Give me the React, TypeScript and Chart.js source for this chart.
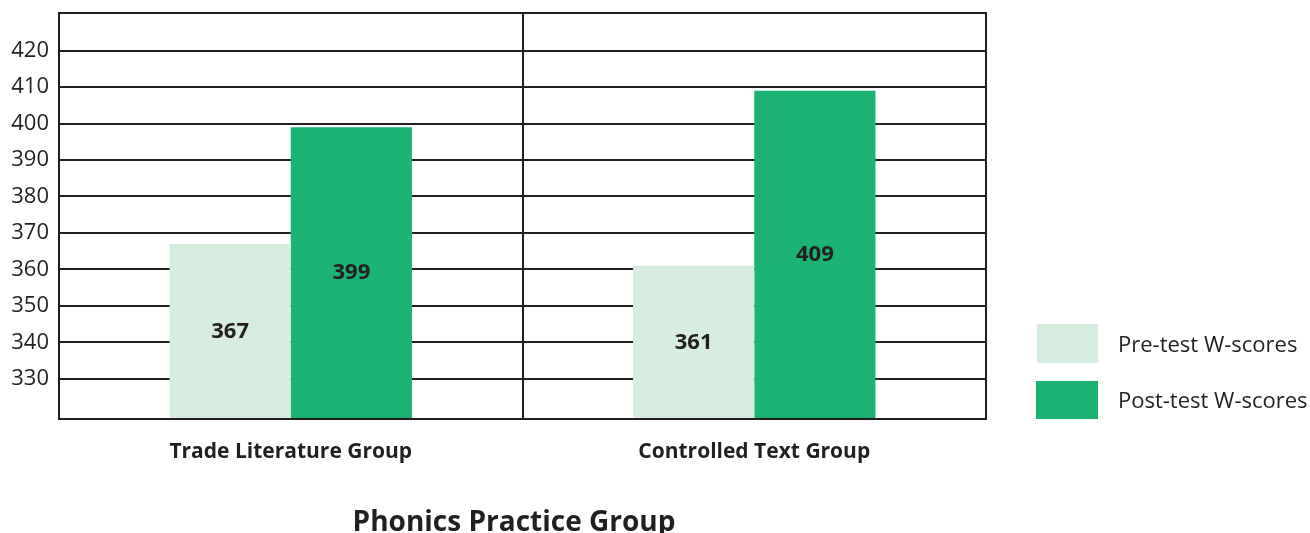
import React, { useEffect, useRef } from "react";
import { Chart, registerables } from "chart.js";

Chart.register(...registerables);

const categories = ["Trade Literature Group", "Controlled Text Group"];
const preTest = [367, 361];
const postTest = [399, 409];
const tickValues = [330, 340, 350, 360, 370, 380, 390, 400, 410, 420];
const seriesNames = ["Pre-test W-scores", "Post-test W-scores"];
const axisTitle = "Phonics Practice Group";

const PRE_COLOR = "#d5ecdf";
const POST_COLOR = "#1bb373";
const INK = "#231f20";
const FONT = "'Open Sans', 'Noto Sans', sans-serif";

export default function App() {
  const ref = useRef<HTMLCanvasElement | null>(null);

  useEffect(() => {
    document.body.style.margin = "0";
    const canvas = ref.current;
    if (!canvas) return;

    const framePlugin = {
      id: "frame",
      afterDatasetsDraw(chart: any) {
        const { ctx, chartArea } = chart;
        const yScale = chart.scales.y;
        ctx.save();
        ctx.fillStyle = INK;
        ctx.font = `bold 22px ${FONT}`;
        ctx.textAlign = "center";
        ctx.textBaseline = "middle";
        chart.data.datasets.forEach((ds: any, i: number) => {
          const meta = chart.getDatasetMeta(i);
          meta.data.forEach((bar: any, j: number) => {
            const v = ds.data[j];
            const top = yScale.getPixelForValue(v);
            const yMid = (top + chartArea.bottom) / 2;
            ctx.fillText(String(v), bar.x, yMid);
          });
        });
        ctx.strokeStyle = INK;
        ctx.lineWidth = 2;
        ctx.strokeRect(
          chartArea.left,
          chartArea.top,
          chartArea.right - chartArea.left,
          chartArea.bottom - chartArea.top
        );
        ctx.restore();
      },
    };

    const chart = new Chart(canvas, {
      type: "bar",
      data: {
        labels: categories,
        datasets: [
          {
            label: seriesNames[0],
            data: preTest,
            backgroundColor: PRE_COLOR,
            borderWidth: 0,
            categoryPercentage: 0.523,
            barPercentage: 1.0,
          },
          {
            label: seriesNames[1],
            data: postTest,
            backgroundColor: POST_COLOR,
            borderWidth: 0,
            categoryPercentage: 0.523,
            barPercentage: 1.0,
          },
        ],
      },
      options: {
        animation: false,
        responsive: false,
        devicePixelRatio: 1,
        layout: { padding: { left: 0, top: 13, right: 324, bottom: 0 } },
        plugins: {
          legend: { display: false },
          tooltip: { enabled: false },
          title: { display: false },
        },
        scales: {
          x: {
            offset: true,
            grid: {
              display: true,
              offset: true,
              color: INK,
              lineWidth: 2,
              drawTicks: false,
            },
            border: { display: false },
            ticks: {
              color: INK,
              padding: 20,
              font: { family: FONT, size: 21, weight: "bold" },
            },
            afterFit(scale: any) {
              scale.height = 114;
              scale.paddingLeft = 0;
              scale.paddingRight = 0;
            },
          },
          y: {
            min: 319,
            max: 430.3,
            grid: {
              color: INK,
              lineWidth: 2,
              drawTicks: false,
            },
            border: { display: false },
            ticks: {
              color: INK,
              padding: 10,
              font: { family: FONT, size: 22 },
            },
            afterBuildTicks(scale: any) {
              scale.ticks = tickValues.map((v) => ({ value: v }));
            },
            afterFit(scale: any) {
              scale.width = 59;
              scale.paddingTop = 0;
              scale.paddingBottom = 0;
            },
          },
        },
      },
      plugins: [framePlugin],
    } as any);

    return () => chart.destroy();
  }, []);

  const legendText: React.CSSProperties = {
    position: "absolute",
    left: 1118,
    fontFamily: FONT,
    fontSize: 22,
    color: INK,
    lineHeight: "40px",
    whiteSpace: "nowrap",
  };

  return (
    <div style={{ position: "relative", width: 1310, height: 533, background: "#fff" }}>
      <canvas ref={ref} width={1310} height={533} style={{ display: "block" }} />
      <div style={{ position: "absolute", left: 1037, top: 324, width: 61, height: 39, background: PRE_COLOR }} />
      <div style={{ ...legendText, top: 323 }}>{seriesNames[0]}</div>
      <div style={{ position: "absolute", left: 1036, top: 381, width: 62, height: 38, background: POST_COLOR }} />
      <div style={{ ...legendText, top: 379 }}>{seriesNames[1]}</div>
      <div
        style={{
          position: "absolute",
          left: 514 - 250,
          width: 500,
          top: 501,
          lineHeight: "38px",
          textAlign: "center",
          fontFamily: FONT,
          fontWeight: "bold",
          fontSize: 28,
          color: INK,
        }}
      >
        {axisTitle}
      </div>
    </div>
  );
}
